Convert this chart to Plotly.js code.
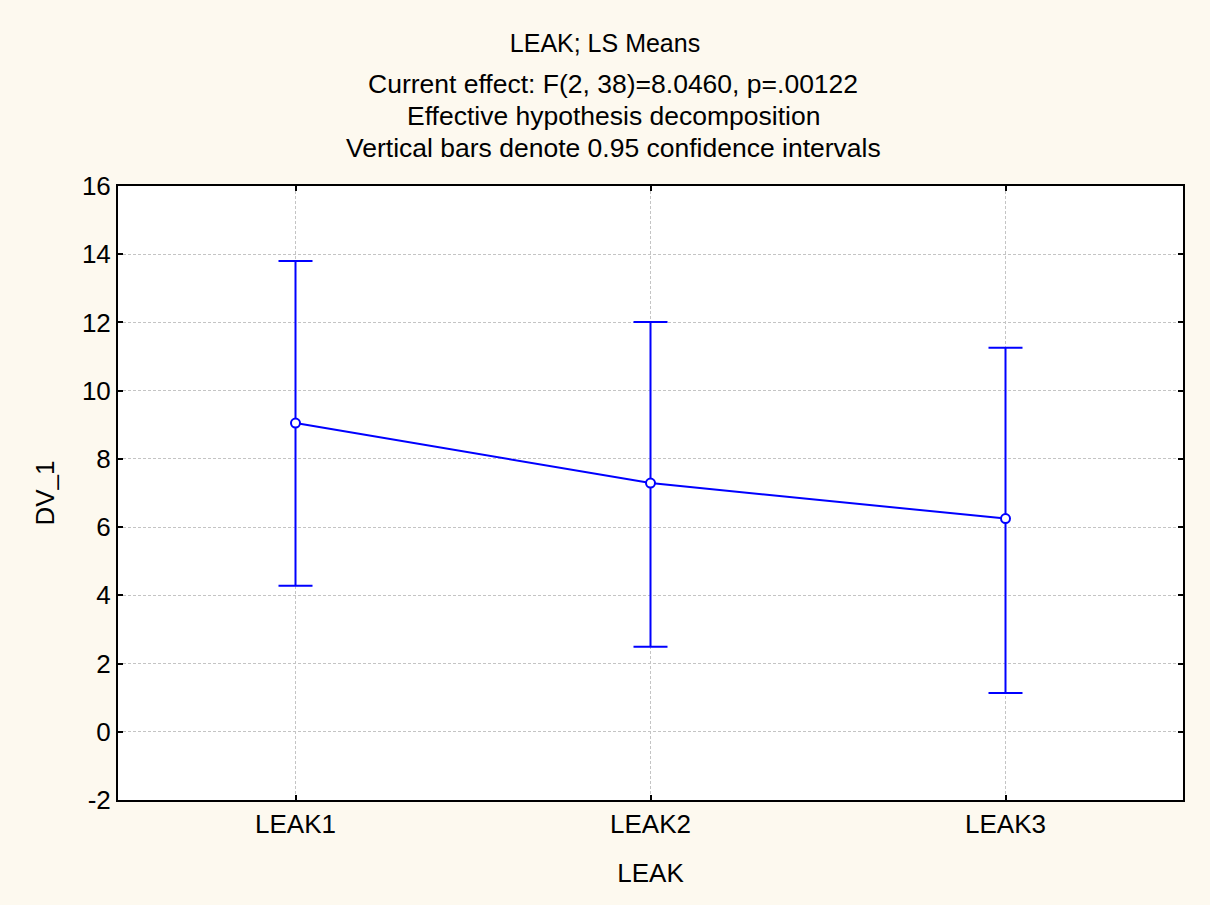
<!DOCTYPE html>
<html>
<head>
<meta charset="utf-8">
<script src="https://cdn.plot.ly/plotly-3.0.1.min.js"></script>
<style>html,body{margin:0;padding:0;background:#FDF9EF;}#chart{width:1210px;height:905px;}</style>
</head>
<body>
<div id="chart"></div>
<script>
// Data
const categories = ["LEAK1", "LEAK2", "LEAK3"];
const means = [9.05, 7.29, 6.25];
const upper = [13.80, 12.01, 11.26];
const lower = [4.28, 2.49, 1.14];
const yTicks = [-2, 0, 2, 4, 6, 8, 10, 12, 14, 16];
const titleLine = "LEAK; LS Means";
const subtitleLines = [
  "Current effect: F(2, 38)=8.0460, p=.00122",
  "Effective hypothesis decomposition",
  "Vertical bars denote 0.95 confidence intervals"
];

const errPlus = upper.map((u, i) => u - means[i]);
const errMinus = means.map((m, i) => m - lower[i]);

const font = "Liberation Sans, Arial, sans-serif";
const blue = "#0000FF";

const trace = {
  type: "scatter",
  mode: "lines+markers",
  x: categories,
  y: means,
  line: {color: blue, width: 2},
  marker: {symbol: "circle", size: 9, color: "#FFFFFF", line: {color: blue, width: 2}},
  error_y: {
    type: "data",
    symmetric: false,
    array: errPlus,
    arrayminus: errMinus,
    color: blue,
    thickness: 2,
    width: 17
  },
  hoverinfo: "x+y"
};

// subtitle line centres (page pixels), converted to paper coordinates
const plotTop = 186, plotBottom = 800, plotLeft = 118, plotW = 1065;
const subtitleY = [84, 116, 148];
const subtitleX = (613 - plotLeft) / plotW;

const annotations = subtitleLines.map((t, i) => ({
  text: t,
  xref: "paper", yref: "paper",
  x: subtitleX, xanchor: "center",
  y: (plotBottom - subtitleY[i]) / (plotBottom - plotTop), yanchor: "middle",
  showarrow: false,
  font: {family: font, size: 26.5, color: "#000000"}
}));

const layout = {
  width: 1210,
  height: 905,
  paper_bgcolor: "#FDF9EF",
  plot_bgcolor: "#FFFFFF",
  margin: {l: 118, r: 27, t: 186, b: 105, pad: 0},
  showlegend: false,
  font: {family: font, size: 26, color: "#000000"},
  title: {
    text: titleLine,
    font: {family: font, size: 25, color: "#000000"},
    x: 0.5, xanchor: "center",
    xref: "container",
    y: 1 - 43 / 905, yanchor: "middle", yref: "container"
  },
  annotations: annotations,
  xaxis: {
    type: "category",
    range: [-0.5, 2.5],
    title: {text: "LEAK", font: {family: font, size: 26}, standoff: 26},
    tickfont: {family: font, size: 26},
    showline: true, linecolor: "#000000", linewidth: 2, mirror: "ticks",
    ticks: "inside", ticklen: 5, tickwidth: 2, tickcolor: "#000000",
    showgrid: true, gridcolor: "#C4C4C4", gridwidth: 1, griddash: "3px,2px",
    zeroline: false,
    fixedrange: true
  },
  yaxis: {
    range: [-2, 16],
    tickvals: yTicks,
    ticktext: yTicks.map(String),
    title: {text: "DV_1", font: {family: font, size: 26}, standoff: 20},
    tickfont: {family: font, size: 26},
    showline: true, linecolor: "#000000", linewidth: 2, mirror: "ticks",
    ticks: "inside", ticklen: 5, tickwidth: 2, tickcolor: "#000000",
    showgrid: true, gridcolor: "#C4C4C4", gridwidth: 1, griddash: "3px,2px",
    zeroline: false,
    fixedrange: true
  }
};

Plotly.newPlot("chart", [trace], layout, {displayModeBar: false, staticPlot: true});
</script>
</body>
</html>
